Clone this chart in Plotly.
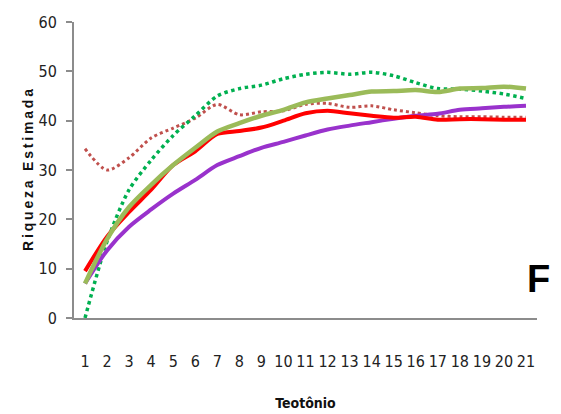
import plotly.graph_objects as go

# Sampling points (x axis categories)
pontos = [str(i) for i in range(1, 22)]

# Estimated richness curves
serie_vermelha = [9.5, 16.5, 21.5, 26.0, 31.0, 33.8, 37.3, 37.9, 38.6, 40.0, 41.5,
                  42.0, 41.5, 41.0, 40.6, 40.8, 40.2, 40.3, 40.3, 40.2, 40.2]
serie_oliva = [7.0, 16.0, 22.5, 27.0, 31.0, 34.5, 37.8, 39.5, 41.0, 42.2, 43.7,
               44.5, 45.2, 45.9, 46.0, 46.2, 45.8, 46.5, 46.6, 46.9, 46.5]
serie_roxa = [7.0, 13.7, 18.5, 22.0, 25.2, 28.0, 31.0, 32.8, 34.5, 35.7, 37.0,
              38.2, 39.0, 39.7, 40.4, 41.0, 41.4, 42.2, 42.5, 42.8, 43.0]
serie_verde_pont = [0.0, 15.5, 26.0, 32.0, 37.0, 41.0, 45.0, 46.5, 47.2, 48.5, 49.4,
                    49.8, 49.4, 49.8, 49.1, 47.7, 46.5, 46.4, 46.0, 45.4, 44.5]
serie_marrom_pont = [34.3, 30.0, 32.5, 36.5, 38.5, 40.5, 43.3, 41.2, 41.8, 42.0, 43.3,
                     43.5, 42.7, 43.0, 42.2, 41.6, 41.0, 40.8, 40.8, 40.7, 40.7]

fig = go.Figure()

def add(y, color, dash, width):
    fig.add_trace(go.Scatter(
        x=pontos, y=y, mode="lines",
        line=dict(color=color, dash=dash, width=width, shape="spline", smoothing=0.8),
        showlegend=False, hoverinfo="skip"))

add(serie_marrom_pont, "#C0504D", "dot", 3)
add(serie_verde_pont, "#00B050", "dot", 3.5)
add(serie_roxa, "#9932CC", "solid", 4)
add(serie_vermelha, "#FF0000", "solid", 4)
add(serie_oliva, "#9BBB59", "solid", 4.5)

narrow = "DejaVu Sans Condensed, Liberation Sans Narrow, Arial Narrow"
tick_font = dict(family=narrow, size=16, color="#222")

# letter-spaced axis title
titulo_y = "\u2009".join("Riqueza Estimada")

fig.update_layout(
    width=561, height=414,
    margin=dict(l=74, r=24, t=22, b=96),
    paper_bgcolor="white", plot_bgcolor="white",
    xaxis=dict(
        type="category", range=[-0.5, 20.5], automargin=False,
        showline=True, linecolor="#8c8c8c", linewidth=2,
        showgrid=False, ticks="", ticklabelstandoff=28,
        tickfont=tick_font,
        title=dict(text="<b>Teotônio</b>", standoff=28,
                   font=dict(family=narrow, size=14, color="#111")),
    ),
    yaxis=dict(
        range=[0, 60], dtick=10, automargin=False,
        showline=True, linecolor="#8c8c8c", linewidth=2,
        showgrid=False, zeroline=False,
        ticks="outside", ticklen=6, tickcolor="#8c8c8c", tickwidth=1.5,
        ticklabelstandoff=6,
        tickfont=tick_font,
        title=dict(text="<b>" + titulo_y + "</b>", standoff=2,
                   font=dict(family="Liberation Sans, Arial", size=14, color="#111")),
    ),
)

# "F" panel label, placed in pixel terms relative to the plot area
w_plot = 561 - 74 - 24
h_plot = 414 - 22 - 96
fig.add_annotation(
    text="<b>F</b>", xref="paper", yref="paper",
    x=(538 - 74) / w_plot, y=(414 - 96 - 279) / h_plot,
    xanchor="center", yanchor="middle",
    showarrow=False, font=dict(family="Liberation Sans, Arial", size=38, color="black"),
)

fig.write_html("out.html")
